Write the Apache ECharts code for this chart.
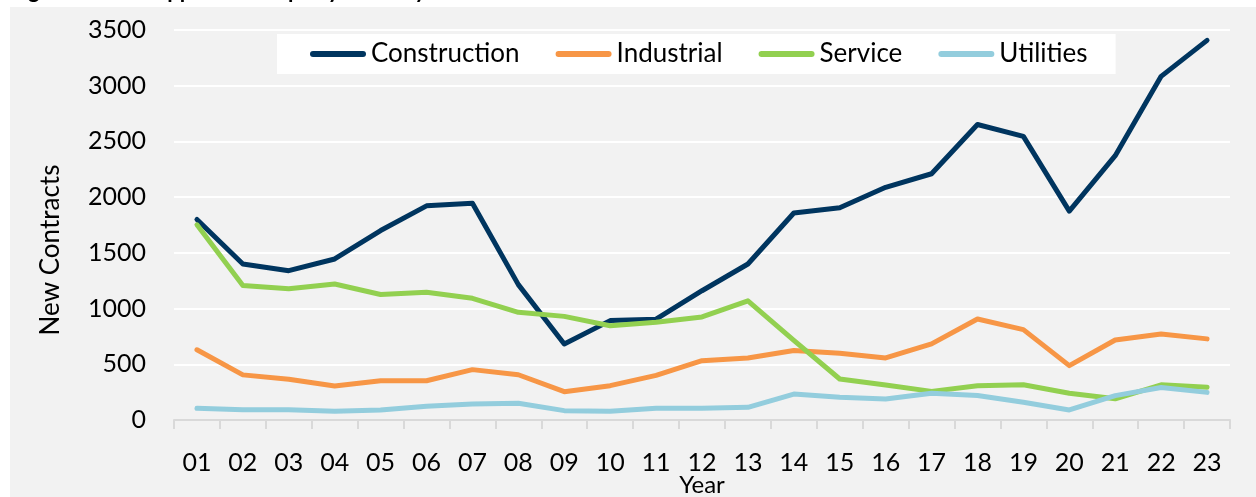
<!DOCTYPE html>
<html>
<head>
<meta charset="utf-8">
<script src="https://cdn.jsdelivr.net/npm/echarts@6/dist/echarts.min.js"></script>
<style>
  html, body { margin: 0; padding: 0; background: #fff; }
  #chart { width: 1256px; height: 497px; }
</style>
</head>
<body>
<div id="chart"></div>
<script>
const years = ['01', '02', '03', '04', '05', '06', '07', '08', '09', '10', '11', '12',
  '13', '14', '15', '16', '17', '18', '19', '20', '21', '22', '23']

const construction = [1800, 1400, 1340, 1445, 1700, 1922, 1945, 1215, 682, 892, 905, 1160,
  1400, 1858, 1904, 2088, 2210, 2652, 2545, 1874, 2372, 3084, 3407]
const industrial = [630, 405, 366, 305, 352, 352, 452, 406, 254, 308, 400, 532,
  557, 623, 600, 557, 683, 906, 811, 488, 718, 772, 728]
const service = [1752, 1208, 1177, 1220, 1126, 1147, 1092, 966, 930, 846, 878, 925,
  1070, 715, 368, 314, 257, 308, 317, 240, 190, 316, 293]
const utilities = [105, 93, 93, 78, 90, 123, 144, 150, 84, 78, 105, 105,
  114, 233, 204, 189, 240, 219, 159, 90, 219, 292, 248]

const font = 'Lato, "Open Sans", sans-serif'
// rounded bar used as legend key
const keyIcon = 'path://M3,0 L53,0 A3,3 0 0 1 53,6 L3,6 A3,3 0 0 1 3,0 Z'
const chart = echarts.init(document.getElementById('chart'))

function line(name, data, color) {
  return {
    name: name,
    type: 'line',
    data: data,
    symbol: 'none',
    lineStyle: { width: 5, color: color, cap: 'round', join: 'round' },
    itemStyle: { color: color }
  }
}

chart.setOption({
  animation: false,
  textStyle: { fontFamily: font },
  graphic: [
    {
      type: 'rect',
      z: -10,
      shape: { x: 10, y: 7, width: 1246, height: 490 },
      style: { fill: '#f2f2f2' }
    },
    {
      type: 'text',
      z: -5,
      left: 10,
      top: -20,
      style: {
        text: 'Figure 3: New Apprenticeships by Industry',
        font: 'bold 22px ' + font,
        fill: '#000'
      }
    }
  ],
  grid: { left: 174, right: 26, top: 30, bottom: 77, outerBoundsMode: 'none' },
  legend: {
    left: 277,
    top: 34,
    padding: [7, 28, 7, 33],
    backgroundColor: '#fff',
    icon: keyIcon,
    itemWidth: 56,
    itemHeight: 6,
    itemGap: 36,
    textStyle: { fontSize: 26, lineHeight: 25, color: '#000', fontFamily: font },
    data: ['Construction', 'Industrial', 'Service', 'Utilities']
  },
  xAxis: {
    type: 'category',
    data: years,
    boundaryGap: true,
    name: 'Year',
    nameLocation: 'middle',
    nameGap: 53,
    nameMoveOverlap: false,
    nameTextStyle: { fontSize: 24, color: '#000' },
    axisLine: { lineStyle: { color: '#d9d9d9', width: 2 } },
    axisTick: { show: true, length: 9, lineStyle: { color: '#d9d9d9', width: 2 } },
    axisLabel: { fontSize: 25, color: '#000', margin: 30, interval: 0 }
  },
  yAxis: {
    type: 'value',
    min: 0,
    max: 3500,
    interval: 500,
    name: 'New Contracts',
    nameLocation: 'middle',
    nameGap: 110,
    nameMoveOverlap: false,
    nameTextStyle: { fontSize: 26, color: '#000', padding: [0, 50, 0, 0] },
    axisLine: { show: false },
    axisTick: { show: false },
    axisLabel: { fontSize: 25, color: '#000', margin: 28, formatter: v => String(v) },
    splitLine: { lineStyle: { color: '#ffffff', width: 2 } }
  },
  series: [
    line('Construction', construction, '#00355f'),
    line('Industrial', industrial, '#f79646'),
    line('Service', service, '#92d050'),
    line('Utilities', utilities, '#93cddd')
  ]
})
</script>
</body>
</html>
